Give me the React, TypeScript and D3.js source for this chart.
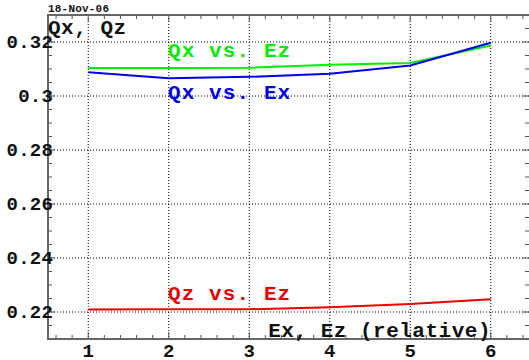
import React from "react";
import * as d3 from "d3";

const energies = [1, 2, 3, 4, 5, 6];
const qxVsEz = [0.3104, 0.3104, 0.3105, 0.3116, 0.3122, 0.3187];
const qxVsEx = [0.3088, 0.3066, 0.3071, 0.3082, 0.3113, 0.3197];
const qzVsEz = [0.2209, 0.221, 0.221, 0.2218, 0.223, 0.2247];
const yTicks = [0.22, 0.24, 0.26, 0.28, 0.3, 0.32];
const yTickLabels = ["0.22", "0.24", "0.26", "0.28", "0.3", "0.32"];
const xTicks = [1, 2, 3, 4, 5, 6];

const W = 529;
const H = 360;
const left = 48;
const right = 531;
const top = 15;
const bottom = 339;
const font = "'Liberation Mono', 'DejaVu Sans Mono', monospace";

export default function App() {
  const x = d3.scaleLinear().domain([0.5, 6.5]).range([left, right]);
  const y = d3.scaleLinear().domain([0.21, 0.33]).range([bottom, top]);
  const line = d3
    .line<number>()
    .x((_, i) => x(energies[i]))
    .y((d) => y(d));

  const xMinor = d3.range(0.6, 6.5, 0.2).filter((v) => Math.abs(v - Math.round(v)) > 0.01);
  const yMinor = d3.range(0.21, 0.3301, 0.005).filter((v) => Math.abs(v * 50 - Math.round(v * 50)) > 0.01);

  const series = [
    { values: qxVsEz, color: "#00ee00", label: "Qx vs. Ez", ly: 57 },
    { values: qxVsEx, color: "#0000ee", label: "Qx vs. Ex", ly: 99 },
    { values: qzVsEz, color: "#ee0000", label: "Qz vs. Ez", ly: 300 },
  ];

  return (
    <svg
      width={W}
      height={H}
      style={{ position: "absolute", left: 0, top: 0, background: "#fff" }}
      fontFamily={font}
      fontWeight="bold"
    >
      {/* grid */}
      {xTicks.map((t) => (
        <line key={"gx" + t} x1={x(t)} x2={x(t)} y1={top} y2={bottom} stroke="#000" strokeWidth={1} strokeDasharray="1,2" />
      ))}
      {yTicks.map((t) => (
        <line key={"gy" + t} x1={left} x2={right} y1={y(t)} y2={y(t)} stroke="#000" strokeWidth={1} strokeDasharray="1,2" />
      ))}

      {/* minor ticks */}
      {xMinor.map((t, i) => (
        <g key={"xm" + i} stroke="#555" strokeWidth={1}>
          <line x1={x(t)} x2={x(t)} y1={bottom} y2={bottom - 4} />
          <line x1={x(t)} x2={x(t)} y1={top} y2={top + 4} />
        </g>
      ))}
      {yMinor.map((t, i) => (
        <g key={"ym" + i} stroke="#555" strokeWidth={1}>
          <line x1={left} x2={left + 4} y1={y(t)} y2={y(t)} />
          <line x1={right - 2} x2={right - 6} y1={y(t)} y2={y(t)} />
        </g>
      ))}
      {xTicks.map((t) => (
        <g key={"xM" + t} stroke="#555" strokeWidth={1}>
          <line x1={x(t)} x2={x(t)} y1={bottom} y2={bottom - 7} />
          <line x1={x(t)} x2={x(t)} y1={top} y2={top + 7} />
        </g>
      ))}
      {yTicks.map((t) => (
        <g key={"yM" + t} stroke="#555" strokeWidth={1}>
          <line x1={left} x2={left + 7} y1={y(t)} y2={y(t)} />
          <line x1={right - 2} x2={right - 9} y1={y(t)} y2={y(t)} />
        </g>
      ))}

      {/* frame */}
      <rect x={left} y={top} width={right - left} height={bottom - top} fill="none" stroke="#666" strokeWidth={2} />

      {/* series */}
      {series.map((s) => (
        <path key={s.label} d={line(s.values) || ""} fill="none" stroke={s.color} strokeWidth={2} />
      ))}
      {series.map((s) => (
        <text key={"l" + s.label} x={168} y={s.ly} fill={s.color} fontSize={21} letterSpacing={1.1}>
          {s.label}
        </text>
      ))}

      {/* tick labels */}
      {yTicks.map((t, i) => (
        <text key={"yl" + t} x={53} y={y(t) + 6} textAnchor="end" fontSize={19} letterSpacing={0.2} fill="#111">
          {yTickLabels[i]}
        </text>
      ))}
      {xTicks.map((t) => (
        <text key={"xl" + t} x={x(t)} y={357} textAnchor="middle" fontSize={19} fill="#111">
          {t}
        </text>
      ))}

      {/* titles */}
      <text x={48} y={34} fontSize={21} letterSpacing={0.5} fill="#111">
        Qx, Qz
      </text>
      <text x={491} y={337} textAnchor="end" fontSize={21} letterSpacing={0.5} fill="#111">
        Ex, Ez (relative)
      </text>
      <text x={48} y={12} fontSize={11} letterSpacing={0.2} fill="#111">
        18-Nov-06
      </text>
    </svg>
  );
}
